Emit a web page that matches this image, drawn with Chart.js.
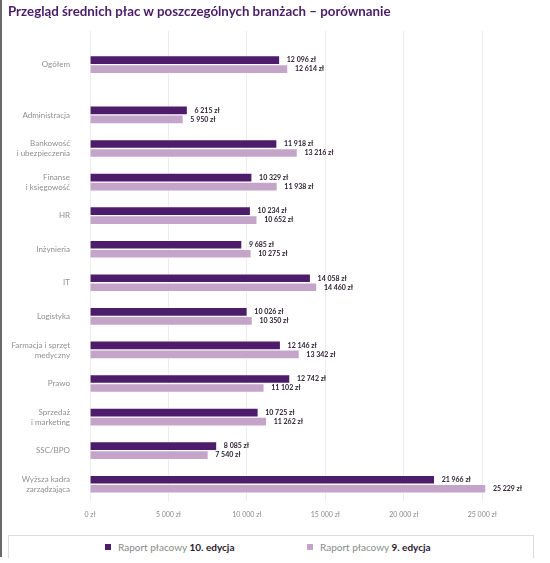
<!DOCTYPE html>
<html>
<head>
<meta charset="utf-8">
<script src="https://cdn.jsdelivr.net/npm/chart.js@4/dist/chart.umd.min.js"></script>
<style>
  body { margin: 0; background: #fff; font-family: Lato, sans-serif; }
  #edge { position: absolute; left: 0; top: 0; width: 2px; height: 557px; background: #6a6a6a; }
  #title { position: absolute; left: 8px; top: 3px; font-size: 13.3px; line-height: 16px; font-weight: bold; color: #4a1b68; white-space: nowrap; }
  #wrap { position: absolute; left: 0; top: 0; width: 540px; height: 530px; }
  #legend { position: absolute; left: 8px; top: 535px; width: 524px; height: 22px;
            border: 1px solid #dcdcdc; border-bottom: none; font-size: 10px; color: #8a8a8a; }
  .item { position: absolute; top: 5px; line-height: 13px; white-space: nowrap; }
  .item i { display: inline-block; width: 6px; height: 6px; margin-right: 7px; vertical-align: 1px; }
  .item b { color: #2b1a33; }
</style>
</head>
<body>
<div id="edge"></div>
<div id="wrap"><canvas id="myChart"></canvas></div>
<div id="title">Przegląd średnich płac w poszczególnych branżach – porównanie</div>
<div id="legend">
  <span class="item" style="left:96px"><i style="background:#4d1d6b"></i>Raport płacowy <b>10. edycja</b></span>
  <span class="item" style="left:298px"><i style="background:#c4a4c9"></i>Raport płacowy <b>9. edycja</b></span>
</div>
<script>
// branże, górny wiersz to średnia ogółem
const categories = [
  'Ogółem', 'Administracja', ['Bankowość', 'i ubezpieczenia'], ['Finanse', 'i księgowość'],
  'HR', 'Inżynieria', 'IT', 'Logistyka', ['Farmacja i sprzęt', 'medyczny'], 'Prawo',
  ['Sprzedaż', 'i marketing'], 'SSC/BPO', ['Wyższa kadra', 'zarządzająca']
];
const edition10 = [12096, 6215, 11918, 10329, 10234, 9685, 14058, 10026, 12146, 12742, 10725, 8085, 21966];
const edition9 = [12614, 5950, 13216, 11938, 10652, 10275, 14460, 10350, 13342, 11102, 11262, 7540, 25229];
const seriesNames = ['Raport płacowy 10. edycja', 'Raport płacowy 9. edycja'];
const xTicks = [0, 5000, 10000, 15000, 20000, 25000];

const DARK = '#4d1d6b';
const LIGHT = '#c4a4c9';

function zl(n) {
  return String(n).replace(/\B(?=(\d{3})+(?!\d))/g, ' ') + ' zł';
}

// "Ogółem" stands apart from the branch rows, so it gets half a row of extra space
function slot(i) {
  return i === 0 ? -0.5 : i;
}

function toPoints(values) {
  return values.map((v, i) => ({ x: v, y: slot(i) }));
}

// value labels to the right of every bar
const barLabels = {
  id: 'barLabels',
  afterDatasetsDraw(chart) {
    const ctx = chart.ctx;
    ctx.save();
    ctx.font = 'bold 7px Lato, sans-serif';
    ctx.fillStyle = '#2e2233';
    ctx.textBaseline = 'middle';
    chart.data.datasets.forEach((ds, di) => {
      chart.getDatasetMeta(di).data.forEach((bar, i) => {
        ctx.fillText(zl(ds.data[i].x), bar.x + 7, bar.y);
      });
    });
    ctx.restore();
  }
};

new Chart(document.getElementById('myChart'), {
  type: 'bar',
  data: {
    datasets: [
      { label: seriesNames[0], data: toPoints(edition10), backgroundColor: DARK,
        borderColor: 'rgba(255,255,255,0.5)', borderWidth: 1, barThickness: 9 },
      { label: seriesNames[1], data: toPoints(edition9), backgroundColor: LIGHT,
        borderColor: 'rgba(255,255,255,0.5)', borderWidth: 1, barThickness: 9 }
    ]
  },
  options: {
    indexAxis: 'y',
    responsive: true,
    maintainAspectRatio: false,
    animation: false,
    layout: { padding: { top: 31, right: 53, left: 0, bottom: 0 } },
    plugins: {
      legend: { display: false },
      tooltip: { enabled: false }
    },
    scales: {
      x: {
        type: 'linear',
        min: 0,
        max: 25300,
        afterBuildTicks: (scale) => { scale.ticks = xTicks.map(v => ({ value: v })); },
        afterFit: (scale) => {
          scale.height = 29;
          scale.paddingLeft = 0;
          scale.paddingRight = 0;
        },
        grid: { color: '#ececec', drawTicks: false },
        border: { display: false },
        ticks: { callback: (v) => zl(v), color: '#8a8a8a', font: { family: 'Lato', size: 7 }, padding: 10, maxRotation: 0 }
      },
      y: {
        type: 'linear',
        reverse: true,
        offset: false,
        min: -1.5,
        max: 12.5,
        afterBuildTicks: (scale) => { scale.ticks = categories.map((c, i) => ({ value: slot(i) })); },
        afterFit: (scale) => {
          scale.width = 90;
          scale.paddingTop = 0;
          scale.paddingBottom = 0;
        },
        grid: { display: false, offset: false },
        border: { display: false },
        ticks: {
          callback: (v, i) => categories[i],
          color: '#8f8f8f',
          font: { family: 'Lato', size: 8, lineHeight: 1.25 },
          padding: 12,
          autoSkip: false
        }
      }
    }
  },
  plugins: [barLabels]
});
</script>
</body>
</html>
